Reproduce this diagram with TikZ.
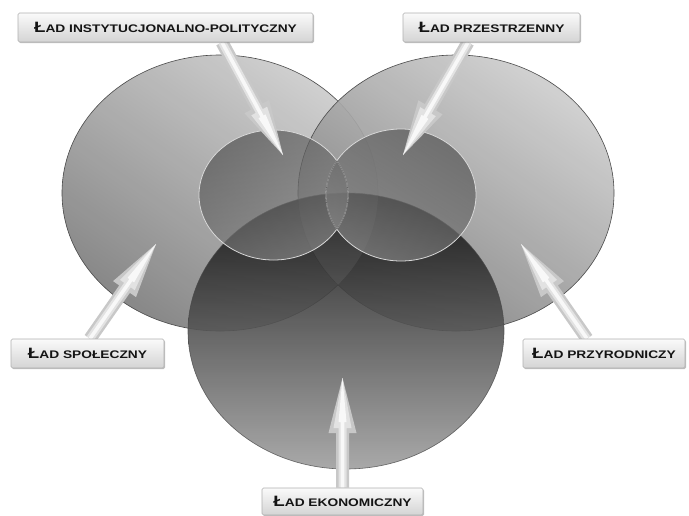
\documentclass[tikz,border=0pt]{standalone}
\usepackage{fontspec}
\newfontfamily\labfont{Liberation Sans}[FakeStretch=1.25]
\usetikzlibrary{calc,shadows}
\pgfdeclarelayer{back}
\pgfdeclarelayer{arr}
\pgfsetlayers{back,arr,main}
\definecolor{lhi}{HTML}{CCCCCC}
\definecolor{llo}{HTML}{7E7E7E}
\definecolor{rhi}{HTML}{CECECE}
\definecolor{rlo}{HTML}{7C7C7C}
\definecolor{btop}{HTML}{0C0C0C}
\definecolor{bmid}{HTML}{4E4E4E}
\definecolor{bbot}{HTML}{A0A0A0}
\definecolor{shi}{HTML}{505050}
\definecolor{slo}{HTML}{888888}
\definecolor{edgec}{HTML}{484848}
\definecolor{arrout}{HTML}{C8C8C8}
\definecolor{arrmid}{HTML}{E2E2E2}
\definecolor{arrin}{HTML}{F8F8F8}
\definecolor{boxtop}{HTML}{FAFAFA}
\definecolor{boxbot}{HTML}{D4D4D4}
\definecolor{boxedge}{HTML}{B0B0B0}
\definecolor{labtext}{HTML}{141414}
\newcommand\ladtext[1]{{\fontsize{15}{15}\selectfont\bfseries Ł}{\fontsize{11}{11}\selectfont\bfseries AD #1}}
% #1 start, #2 tip, #3 head length, #4 half head width, #5 half shaft width, #6 colour
\newcommand\arrowpoly[6]{%
  \fill[#6]
    ($(#1)!#5!90:(#2)$) --
    ($($(#2)!#3!(#1)$)!#5!90:(#2)$) --
    ($($(#2)!#3!(#1)$)!#4!90:(#2)$) --
    (#2) --
    ($($(#2)!#3!(#1)$)!#4!-90:(#2)$) --
    ($($(#2)!#3!(#1)$)!#5!-90:(#2)$) --
    ($(#1)!#5!-90:(#2)$) -- cycle;}
\newcommand\drawfatarrow[2]{%
  \arrowpoly{#1}{#2}{55pt}{14pt}{6.5pt}{arrout}
  \arrowpoly{#1}{#2}{50pt}{9pt}{4pt}{arrmid}
  \arrowpoly{#1}{#2}{44pt}{4pt}{1.8pt}{arrin}}
\begin{document}
\begin{tikzpicture}[x=1pt,y=-1pt,
  bigedge/.style={draw=edgec, line width=0.6pt},
  smalledge/.style={draw=white!85!black, line width=0.8pt},
  lensedge/.style={draw=edgec, line width=0.6pt, draw opacity=0.8},
  labbox/.style={draw=boxedge, line width=0.6pt, rounded corners=1.5pt,
    top color=boxtop, bottom color=boxbot, inner sep=0pt, text=labtext,
    font=\labfont, minimum height=29pt,
    drop shadow={shadow xshift=1pt, shadow yshift=-1.2pt, opacity=0.25, fill=black}}]
\useasboundingbox (0,0) rectangle (689,515);

\coordinate (cL) at (220,193);
\coordinate (cR) at (456,193);
\coordinate (cB) at (346,331);
\coordinate (sL) at (273.5,195);
\coordinate (sR) at (401,195);

\begin{pgfonlayer}{back}
  \fill[white] (0,0) rectangle (689,515);
  % left and right big ellipses
  \shade[fill opacity=0.92, top color=lhi, bottom color=llo, shading angle=-35]
    (cL) ellipse [x radius=158pt, y radius=138pt];
  \draw[bigedge] (cL) ellipse [x radius=158pt, y radius=138pt];
  \shade[fill opacity=0.92, top color=rhi, bottom color=rlo, shading angle=-35]
    (cR) ellipse [x radius=158pt, y radius=138pt];
  \draw[bigedge] (cR) ellipse [x radius=158pt, y radius=138pt];
  % bottom big ellipse
  \shade[fill opacity=0.9, top color=btop, middle color=bmid, bottom color=bbot]
    (cB) ellipse [x radius=158pt, y radius=138pt];
  \draw[bigedge, draw opacity=0.8] (cB) ellipse [x radius=158pt, y radius=138pt];
  % lens highlight inside bottom ellipse
  \begin{scope}
    \clip (cL) ellipse [x radius=158pt, y radius=138pt];
    \clip (cB) ellipse [x radius=158pt, y radius=138pt];
    \fill[white, opacity=0.07] (cR) ellipse [x radius=158pt, y radius=138pt];
  \end{scope}
  % small ellipses
  \shade[fill opacity=0.68, top color=shi, bottom color=slo, shading angle=30]
    (sL) ellipse [x radius=74.5pt, y radius=65pt];
  \shade[fill opacity=0.68, top color=shi, bottom color=slo, shading angle=-30]
    (sR) ellipse [x radius=75pt, y radius=66pt];
  \draw[smalledge] (sL) ellipse [x radius=74.5pt, y radius=65pt];
  \draw[smalledge] (sR) ellipse [x radius=75pt, y radius=66pt];
  \begin{scope}
    \clip (sL) ellipse [x radius=74.5pt, y radius=65pt];
    \draw[lensedge] (sR) ellipse [x radius=75pt, y radius=66pt];
  \end{scope}
  \begin{scope}
    \clip (sR) ellipse [x radius=75pt, y radius=66pt];
    \draw[lensedge] (sL) ellipse [x radius=74.5pt, y radius=65pt];
  \end{scope}
\end{pgfonlayer}

% labels
\node[labbox, minimum width=295pt] (b1) at (165.5,27.5) {\ladtext{INSTYTUCJONALNO-POLITYCZNY}};
\node[labbox, minimum width=177pt] (b2) at (491.5,27.5) {\ladtext{PRZESTRZENNY}};
\node[labbox, minimum width=153pt] (b3) at (87.5,353.5) {\ladtext{SPOŁECZNY}};
\node[labbox, minimum width=162pt] (b4) at (604,353.5) {\ladtext{PRZYRODNICZY}};
\node[labbox, minimum width=161pt, minimum height=27pt] (b5) at (342.5,501.5) {\ladtext{EKONOMICZNY}};

\coordinate (s1) at ([xshift=56.5pt]b1.south);
\coordinate (s2) at ([xshift=-23.5pt]b2.south);
\coordinate (s3) at ([xshift=2.5pt]b3.north);
\coordinate (s4) at ([xshift=-17pt]b4.north);
\coordinate (s5) at (b5.north);
\coordinate (t1) at (283,155);
\coordinate (t2) at (403,155);
\coordinate (t3) at (156,244);
\coordinate (t4) at (521,244);
\coordinate (t5) at (342.5,378);

\begin{pgfonlayer}{arr}
  \drawfatarrow{s1}{t1}
  \drawfatarrow{s2}{t2}
  \drawfatarrow{s3}{t3}
  \drawfatarrow{s4}{t4}
  \drawfatarrow{s5}{t5}
\end{pgfonlayer}
\end{tikzpicture}
\end{document}
